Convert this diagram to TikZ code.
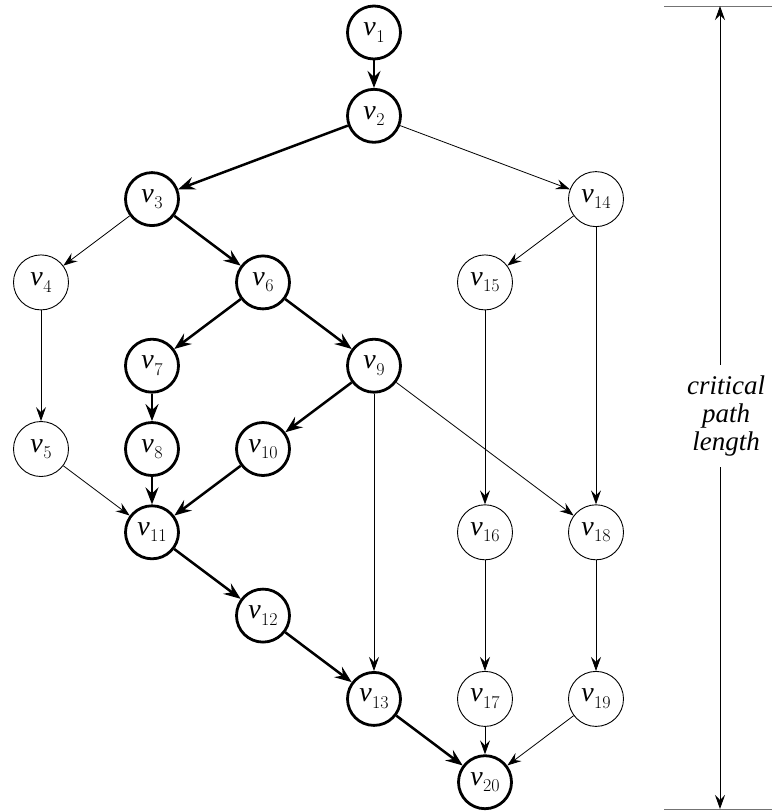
\documentclass[tikz,border=0pt]{standalone}
\usepackage{fontspec}
\newfontfamily\serifit{Liberation Serif}
\usetikzlibrary{arrows.meta}

% vertex label: italic v with an upright lowered index
\newcommand\vlab[1]{{\serifit\itshape v}\kern0.5pt\raisebox{-0.23em}{\fontsize{18}{18}\selectfont\rmfamily #1}}

\tikzset{
  vtx/.style={circle, draw, inner sep=0pt, font=\fontsize{28}{28}\selectfont},
  crit/.style={vtx, line width=2.8pt, minimum size=53pt},
  plain/.style={vtx, line width=0.9pt, minimum size=55pt},
  critedge/.style={line width=2.5pt, -{Stealth[length=17pt, width=13pt, inset=6pt]}},
  plainedge/.style={line width=0.8pt, -{Stealth[length=14pt, width=10pt, inset=5pt]}},
  scaleedge/.style={line width=1pt, -{Stealth[length=14pt, width=10pt, inset=5pt]}},
  tick/.style={line width=1pt, draw=black!55},
}

\begin{document}
\begin{tikzpicture}[x=1pt, y=-1pt]
\useasboundingbox (0,0) rectangle (772,812);

% vertices
\node[crit]  (v1)  at (374, 32.5) {\vlab{1}};
\node[crit]  (v2)  at (374, 115.8) {\vlab{2}};
\node[crit]  (v3)  at (152, 199.1) {\vlab{3}};
\node[plain] (v14) at (596, 199.1) {\vlab{14}};
\node[plain] (v4)  at (41, 282.4) {\vlab{4}};
\node[crit]  (v6)  at (263, 282.4) {\vlab{6}};
\node[plain] (v15) at (485, 282.4) {\vlab{15}};
\node[crit]  (v7)  at (152, 365.7) {\vlab{7}};
\node[crit]  (v9)  at (374, 365.7) {\vlab{9}};
\node[plain] (v5)  at (41, 449) {\vlab{5}};
\node[crit]  (v8)  at (152, 449) {\vlab{8}};
\node[crit]  (v10) at (263, 449) {\vlab{10}};
\node[crit]  (v11) at (152, 532.3) {\vlab{11}};
\node[plain] (v16) at (485, 532.3) {\vlab{16}};
\node[plain] (v18) at (596, 532.3) {\vlab{18}};
\node[crit]  (v12) at (263, 615.6) {\vlab{12}};
\node[crit]  (v13) at (374, 698.9) {\vlab{13}};
\node[plain] (v17) at (485, 698.9) {\vlab{17}};
\node[plain] (v19) at (596, 698.9) {\vlab{19}};
\node[crit]  (v20) at (485, 782.2) {\vlab{20}};

% critical path edges
\draw[critedge] (v1) -- (v2);
\draw[critedge] (v2) -- (v3);
\draw[critedge] (v3) -- (v6);
\draw[critedge] (v6) -- (v7);
\draw[critedge] (v6) -- (v9);
\draw[critedge] (v7) -- (v8);
\draw[critedge] (v8) -- (v11);
\draw[critedge] (v9) -- (v10);
\draw[critedge] (v10) -- (v11);
\draw[critedge] (v11) -- (v12);
\draw[critedge] (v12) -- (v13);
\draw[critedge] (v13) -- (v20);

% remaining edges
\draw[plainedge] (v2) -- (v14);
\draw[plainedge] (v3) -- (v4);
\draw[plainedge] (v4) -- (v5);
\draw[plainedge] (v5) -- (v11);
\draw[plainedge] (v9) -- (v13);
\draw[plainedge] (v9) -- (v18);
\draw[plainedge] (v14) -- (v15);
\draw[plainedge] (v14) -- (v18);
\draw[plainedge] (v15) -- (v16);
\draw[plainedge] (v16) -- (v17);
\draw[plainedge] (v17) -- (v20);
\draw[plainedge] (v18) -- (v19);
\draw[plainedge] (v19) -- (v20);

% length scale
\coordinate (top) at (720, 6);
\coordinate (bot) at (720, 809);
\draw[tick] (664, 6) -- (772, 6);
\draw[tick] (664, 809) -- (772, 809);
\node[font=\serifit\itshape\fontsize{27}{28}\selectfont, align=center, inner sep=0pt,
      minimum height=102pt] (cpl) at (726, 416) {critical\\path\\length};
\draw[scaleedge] (cpl.north -| top) -- (top);
\draw[scaleedge] (cpl.south -| bot) -- (bot);
\end{tikzpicture}
\end{document}
